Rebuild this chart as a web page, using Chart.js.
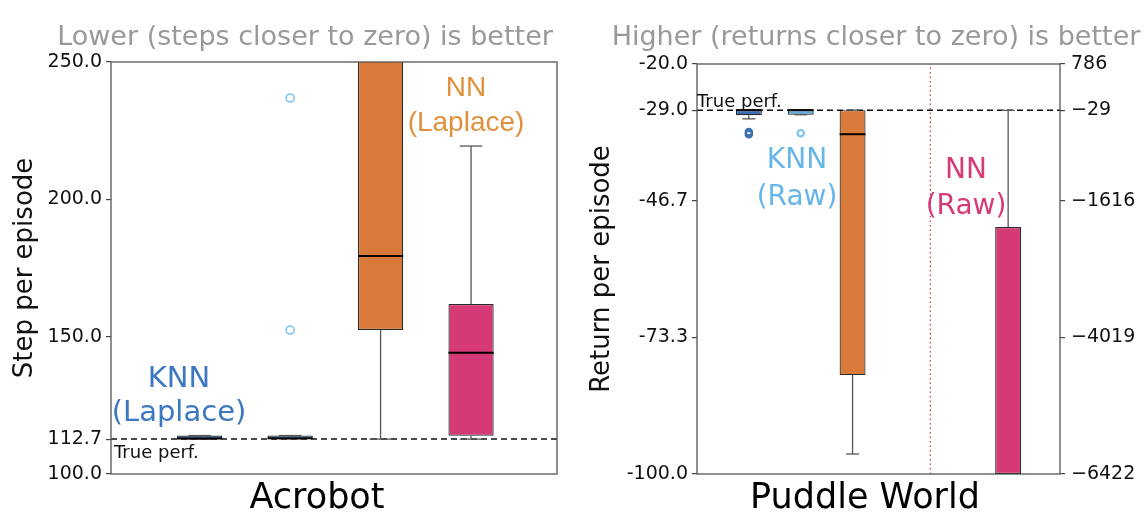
<!DOCTYPE html>
<html>
<head>
<meta charset="utf-8">
<script src="https://cdn.jsdelivr.net/npm/chart.js@4.4.1/dist/chart.umd.min.js"></script>
<style>
  html, body { margin: 0; padding: 0; background: #fff; overflow: hidden; }
  #wrap { position: relative; width: 1145px; height: 515px; }
  #c1 { position: absolute; left: 0; top: 0; }
  #c2 { position: absolute; left: 575px; top: 0; }
</style>
</head>
<body>
<div id="wrap">
  <canvas id="c1" width="575" height="515"></canvas>
  <canvas id="c2" width="570" height="515"></canvas>
</div>
<script>
// ---- Acrobot: steps per episode (lower is better) ----
const acroPos = [1, 2, 3, 4];
const acroQ1 = [112.7, 112.8, 152.4, 113.9];
const acroMed = [112.9, 113.0, 179.4, 144.1];
const acroQ3 = [114.0, 114.0, 268.0, 161.9];
const acroLo = [112.7, 112.8, 112.7, 112.7];
const acroHi = [114.0, 114.0, 290.0, 219.4];
const acroFliers = [[], [236.9, 152.4], [], []];
const acroTicks = [100.0, 112.7, 150.0, 200.0, 250.0];
const acroTrue = 112.7;

// ---- Puddle World: return per episode (higher is better) ----
// the NN (Raw) box lives on the raw-return axis on the right
const puddlePos = [1, 2, 3, 6];
const puddleAxis = ['y', 'y', 'y', 'y2'];
const puddleQ1 = [-30.0, -29.9, -80.7, -6422];
const puddleMed = [-29.0, -29.0, -33.7, -6422];
const puddleQ3 = [-29.0, -29.0, -29.0, -2079];
const puddleLo = [-30.7, -29.9, -96.1, -6422];
const puddleHi = [-29.0, -29.0, -29.0, -29];
const puddleFliers = [[-33.3, -33.7], [-33.5], [], []];
const puddleTicks = [-100.0, -73.3, -46.7, -29.0, -20.0];
const puddleRawTicks = [-6422, -4019, -1616, -29, 786];
const puddleTrue = -29.0;
const puddleSplit = 4.5;

// methods, in box order
const methodLines = [['KNN', '(Laplace)'], ['KNN', '(Raw)'], ['NN', '(Laplace)'], ['NN', '(Raw)']];
const boxFill = ['#3a6fb5', '#5eb0e4', '#d9793a', '#d53a77'];
const flierColor = ['#3d6fb3', '#7cc4ee', '#d9793a', '#d53a77'];
const textColor = ['#3b78c1', '#66b6e8', '#e0913d', '#d63a78'];

const BOX_HALF = 0.25;
const CAP_HALF = 0.125;

Chart.defaults.font.family = 'DejaVu Sans';
Chart.defaults.color = '#111';

function boxDatasets(pos, q1, q3, axes) {
  return pos.map((p, i) => ({
    type: 'bar',
    data: [{ x: p, y: [q1[i], q3[i]] }],
    backgroundColor: boxFill[i],
    borderColor: '#2b2b2b',
    borderWidth: 1.2,
    borderSkipped: false,
    grouped: false,
    categoryPercentage: 1,
    barPercentage: 2 * BOX_HALF,
    yAxisID: axes[i],
    order: 3
  }));
}

function flierDatasets(pos, fliers, axes, radius, width) {
  return pos.map((p, i) => ({
    type: 'scatter',
    data: fliers[i].map(v => ({ x: p, y: v })),
    pointStyle: 'circle',
    pointRadius: radius,
    borderWidth: width,
    borderColor: flierColor[i],
    backgroundColor: 'rgba(0,0,0,0)',
    yAxisID: axes[i],
    order: 2
  }));
}

function hLine(y, x0, x1, axis) {
  return {
    type: 'line',
    data: [{ x: x0, y: y }, { x: x1, y: y }],
    borderColor: '#111',
    borderWidth: 1.5,
    borderDash: [6, 4],
    pointRadius: 0,
    yAxisID: axis,
    order: 1
  };
}

// whiskers, caps and medians drawn through the chart's own scales
function whiskerPlugin(st) {
  return {
    id: 'whiskers',
    afterDatasetsDraw(chart) {
      const { ctx, chartArea: a, scales } = chart;
      const xs = scales.x;
      ctx.save();
      ctx.beginPath();
      ctx.rect(a.left, a.top, a.right - a.left, a.bottom - a.top);
      ctx.clip();
      const seg = (x0, y0, x1, y1) => { ctx.beginPath(); ctx.moveTo(x0, y0); ctx.lineTo(x1, y1); ctx.stroke(); };
      st.pos.forEach((p, i) => {
        const ys = scales[st.axes[i]];
        const cx = xs.getPixelForValue(p);
        const cl = xs.getPixelForValue(p - CAP_HALF), cr = xs.getPixelForValue(p + CAP_HALF);
        const bl = xs.getPixelForValue(p - BOX_HALF), br = xs.getPixelForValue(p + BOX_HALF);
        ctx.strokeStyle = '#555';
        ctx.lineWidth = 1.3;
        [[st.q1[i], st.lo[i]], [st.q3[i], st.hi[i]]].forEach(([from, to]) => {
          const yt = ys.getPixelForValue(to);
          if (from !== to) seg(cx, ys.getPixelForValue(from), cx, yt);
          seg(cl, yt, cr, yt);
        });
        ctx.strokeStyle = '#000';
        ctx.lineWidth = 2;
        const ym = ys.getPixelForValue(st.med[i]);
        seg(bl, ym, br, ym);
      });
      ctx.restore();
    }
  };
}

// axes frame plus the text that sits on the figure
function decorPlugin(texts) {
  return {
    id: 'decor',
    afterDraw(chart) {
      const { ctx, chartArea: a } = chart;
      ctx.save();
      ctx.strokeStyle = '#555';
      ctx.lineWidth = 1.3;
      ctx.strokeRect(a.left, a.top, a.right - a.left, a.bottom - a.top);
      texts.forEach(t => {
        ctx.font = t.font;
        ctx.fillStyle = t.color;
        ctx.textAlign = t.align || 'center';
        ctx.textBaseline = 'alphabetic';
        t.lines.forEach((s, k) => ctx.fillText(s, t.x, t.y[k]));
      });
      ctx.restore();
    }
  };
}

function yAxis(ticks, min, max, width, position, fmt, title, titlePad) {
  return {
    type: 'linear',
    position: position,
    min: min,
    max: max,
    afterBuildTicks: s => { s.ticks = ticks.map(v => ({ value: v })); },
    afterFit: s => { s.width = width; },
    ticks: { autoSkip: false, padding: position === 'left' ? 4 : 6, color: '#111', font: { size: 19 }, callback: fmt },
    grid: { display: true, drawOnChartArea: false, drawTicks: true, tickLength: 5, color: '#444', lineWidth: 1.2 },
    border: { display: false },
    title: title ? { display: true, text: title, color: '#111', font: { size: 26, lineHeight: 1.2 }, padding: { top: titlePad, bottom: 0 } } : { display: false }
  };
}

function xAxis(min, max, pos) {
  return {
    type: 'linear',
    offset: false,
    min: min,
    max: max,
    afterBuildTicks: s => { s.ticks = pos.map(v => ({ value: v })); },
    afterFit: s => { s.height = 41; },
    ticks: { display: false },
    grid: { display: false, offset: false },
    border: { display: false }
  };
}

const baseOpts = {
  responsive: false,
  animation: false,
  events: [],
  plugins: { legend: { display: false }, tooltip: { enabled: false }, title: { display: false } }
};

// ---- Acrobot panel ----
const acroX = [0.02, 4.95];
new Chart(document.getElementById('c1'), {
  type: 'bar',
  data: {
    datasets: [
      ...boxDatasets(acroPos, acroQ1, acroQ3, ['y', 'y', 'y', 'y']),
      ...flierDatasets(acroPos, acroFliers, ['y', 'y', 'y', 'y'], 4, 1.6),
      hLine(acroTrue, acroX[0], acroX[1], 'y')
    ]
  },
  options: {
    ...baseOpts,
    layout: { padding: { top: 62, left: 0, right: 18, bottom: 0 } },
    scales: {
      x: xAxis(acroX[0], acroX[1], acroPos),
      y: yAxis(acroTicks, 100, 250, 111, 'left', v => v.toFixed(1), 'Step per episode', 10)
    }
  },
  plugins: [
    whiskerPlugin({ pos: acroPos, axes: ['y', 'y', 'y', 'y'], q1: acroQ1, med: acroMed, q3: acroQ3, lo: acroLo, hi: acroHi }),
    decorPlugin([
      { lines: ['Lower (steps closer to zero) is better'], x: 305, y: [45], font: '27px "DejaVu Sans"', color: '#999' },
      { lines: ['Acrobot'], x: 317, y: [508], font: '35px "DejaVu Sans"', color: '#000' },
      { lines: methodLines[0], x: 179, y: [387, 421], font: '29px "DejaVu Sans"', color: textColor[0] },
      { lines: methodLines[2], x: 466, y: [96, 131], font: '28px "Liberation Sans"', color: textColor[2] },
      { lines: ['True perf.'], x: 114, y: [458], font: '18px "DejaVu Sans"', color: '#111', align: 'left' }
    ])
  ]
});

// ---- Puddle World panel ----
const puddleX = [0, 7];
const minusSign = v => (v < 0 ? '\u2212' + Math.abs(v) : String(v));
const splitLine = {
  type: 'line',
  data: [{ x: puddleSplit, y: -100 }, { x: puddleSplit, y: -20 }],
  borderColor: '#b8554f',
  borderWidth: 1.3,
  borderDash: [1.5, 3],
  pointRadius: 0,
  yAxisID: 'y',
  order: 4
};
new Chart(document.getElementById('c2'), {
  type: 'bar',
  data: {
    datasets: [
      splitLine,
      ...boxDatasets(puddlePos, puddleQ1, puddleQ3, puddleAxis),
      ...flierDatasets(puddlePos, puddleFliers, puddleAxis, 3.2, 2.2),
      hLine(puddleTrue, puddleX[0], puddleX[1], 'y')
    ]
  },
  options: {
    ...baseOpts,
    layout: { padding: { top: 64, left: 0, right: 0, bottom: 0 } },
    scales: {
      x: xAxis(puddleX[0], puddleX[1], puddlePos),
      y: yAxis(puddleTicks, -100, -20, 122, 'left', v => v.toFixed(1), 'Return per episode', 12),
      y2: yAxis(puddleRawTicks, -6422, 786, 85, 'right', minusSign, null, 0)
    }
  },
  plugins: [
    whiskerPlugin({ pos: puddlePos, axes: puddleAxis, q1: puddleQ1, med: puddleMed, q3: puddleQ3, lo: puddleLo, hi: puddleHi }),
    decorPlugin([
      { lines: ['Higher (returns closer to zero) is better'], x: 301, y: [45], font: '27px "DejaVu Sans"', color: '#999' },
      { lines: ['Puddle World'], x: 290, y: [508], font: '35px "DejaVu Sans"', color: '#000' },
      { lines: methodLines[1], x: 222, y: [168, 205], font: '28px "DejaVu Sans"', color: textColor[1] },
      { lines: methodLines[3], x: 391, y: [178, 214], font: '28px "DejaVu Sans"', color: textColor[3] },
      { lines: ['True perf.'], x: 122, y: [107], font: '18px "DejaVu Sans"', color: '#111', align: 'left' }
    ])
  ]
});
</script>
</body>
</html>
